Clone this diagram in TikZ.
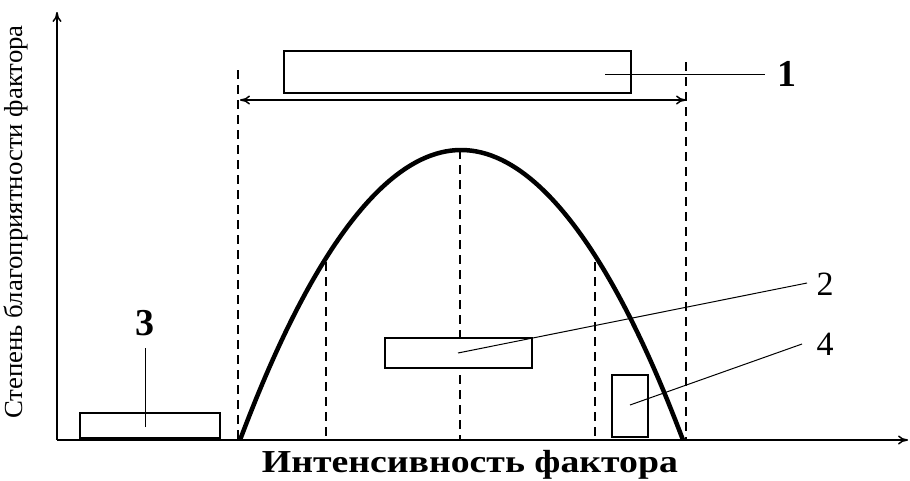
\documentclass[tikz,border=0pt]{standalone}
\usepackage{fontspec}
\setmainfont{Liberation Serif}
\usetikzlibrary{arrows.meta}
\tikzset{
  box/.style={draw, line width=1.5pt, minimum width=#1, inner sep=0pt},
  guide/.style={line width=1.5pt, dash pattern=on 9pt off 6pt},
  lead/.style={line width=1pt},
  num/.style={font=\fontsize{34}{34}\selectfont, inner sep=0pt},
}
\begin{document}
\begin{tikzpicture}[x=1pt, y=-1pt, >={To[length=10pt,width=9pt]}]
\useasboundingbox (0,0) rectangle (910,480);
% axes
\coordinate (O) at (57,440);
\coordinate (ytop) at (57,12);
\coordinate (xend) at (908,440);
\draw[line width=1.5pt,->] (O) -- (ytop);
\draw[line width=1.5pt,->] (O) -- (xend);
\node[rotate=90, font=\fontsize{26}{26}\selectfont] (ylab) at (16,222)
  {\scalebox{1.03}[1]{Степень благоприятности фактора}};
\node[font=\bfseries\fontsize{32}{32}\selectfont] (xlab) at (470,465)
  {\scalebox{1.18}[1]{Интенсивность фактора}};
% dashed limits
\draw[guide] (238,70) -- (238,440);
\draw[guide] (686,62) -- (686,440);
\draw[guide] (326,262) -- (326,440);
\draw[guide] (595,262) -- (595,440);
\draw[guide] (460,150) -- (460,440);
% tolerance range
\coordinate (rl) at (240,100);
\coordinate (rr) at (686,100);
\draw[line width=1.5pt,<->] (rl) -- (rr);
% curve
\draw[line width=4.5pt] (240,440) parabola bend (461,150) (683,440);
% boxes
\node[box=347pt, minimum height=42pt, fill=white] (b1) at (457.5,72) {};
\node[box=147pt, minimum height=30pt, fill=white] (b2) at (458.5,353) {};
\node[box=140pt, minimum height=25pt] (b3) at (150,425.5) {};
\node[box=36pt, minimum height=62pt] (b4) at (630,406) {};
% labels
\node[num, font=\bfseries\fontsize{38}{38}\selectfont] (n1) at (787,74) {1};
\node[num] (n2) at (825,284) {2};
\node[num, font=\bfseries\fontsize{38}{38}\selectfont] (n3) at (145,323) {3};
\node[num] (n4) at (825,344) {4};
% leaders
\coordinate (c1) at (605,74);
\coordinate (c2) at (458,353);
\coordinate (c3) at (145,427);
\coordinate (c4) at (630,405);
\draw[lead] (c1) -- (765,74);
\draw[lead] (c2) -- (807,283);
\draw[lead] (c3) -- (145,348);
\draw[lead] (c4) -- (802,344);
\end{tikzpicture}
\end{document}
